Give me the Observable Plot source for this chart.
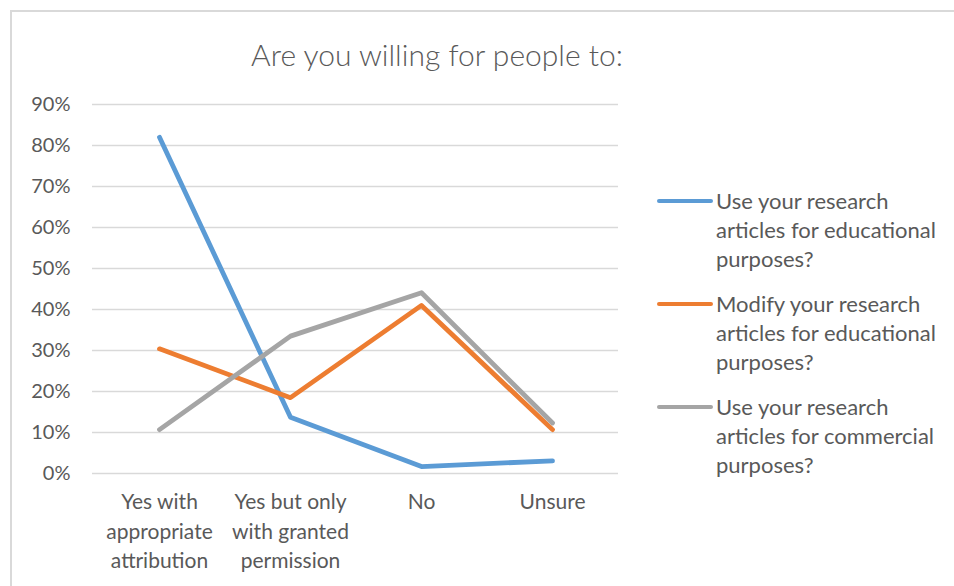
<!DOCTYPE html>
<html>
<head>
<meta charset="utf-8">
<script src="https://cdn.jsdelivr.net/npm/d3@7"></script>
<script src="https://cdn.jsdelivr.net/npm/@observablehq/plot@0.6"></script>
<style>
  html, body { margin: 0; padding: 0; background: #fff; }
  #wrap { position: relative; width: 954px; height: 586px; overflow: hidden; font-family: Lato, "Open Sans", sans-serif; color: #595959; }
  #frame { position: absolute; left: 10px; top: 10px; width: 960px; height: 600px; border-left: 2px solid #d9d9d9; border-top: 2px solid #d9d9d9; box-sizing: border-box; }
  #title { position: absolute; left: 0; top: 37px; width: 874px; text-align: center; font-size: 30px; font-weight: 300; line-height: 34px; }
  #chart { position: absolute; left: 0; top: 80px; }
  #legend { position: absolute; left: 657px; top: 186px; width: 297px; }
  .entry { position: relative; padding-left: 59px; font-size: 22px; line-height: 29px; margin-bottom: 16px; white-space: nowrap; }
  .swatch { position: absolute; left: 0; top: 12.5px; width: 56px; height: 4.8px; border-radius: 2.5px; }
</style>
</head>
<body>
<div id="wrap">
  <div id="frame"></div>
  <div id="title">Are you willing for people to:</div>
  <div id="chart"></div>
  <div id="legend"></div>
</div>
<script>
// Answer categories (x axis), with the line breaks used in the axis labels
const categories = [
  "Yes with\nappropriate\nattribution",
  "Yes but only\nwith granted\npermission",
  "No",
  "Unsure"
];

// Survey questions (one line each)
const seriesNames = [
  "Use your research articles for educational purposes?",
  "Modify your research articles for educational purposes?",
  "Use your research articles for commercial purposes?"
];
const seriesColors = ["#5b9bd5", "#ed7d31", "#a5a5a5"];

// Share of respondents per answer
const useEducational = [0.82, 0.137, 0.017, 0.031];
const modifyEducational = [0.304, 0.185, 0.41, 0.107];
const useCommercial = [0.107, 0.335, 0.441, 0.123];

// y axis ticks
const yTicks = [0, 0.1, 0.2, 0.3, 0.4, 0.5, 0.6, 0.7, 0.8, 0.9];

const seriesValues = [useEducational, modifyEducational, useCommercial];
const rows = seriesNames.flatMap((name, i) =>
  categories.map((category, j) => ({series: name, category, value: seriesValues[i][j]}))
);

const chart = Plot.plot({
  width: 640,
  height: 506,
  marginTop: 24,
  marginBottom: 113,
  marginLeft: 92,
  marginRight: 22,
  x: {type: "point", domain: categories, padding: 0.5, label: null},
  y: {domain: [0, 0.9], label: null},
  color: {domain: seriesNames, range: seriesColors},
  style: {fontFamily: "Lato, 'Open Sans', sans-serif", color: "#595959", background: "transparent", overflow: "visible"},
  marks: [
    Plot.gridY(yTicks, {stroke: "#d9d9d9", strokeOpacity: 1, strokeWidth: 1.6}),
    Plot.axisY(yTicks, {tickFormat: d3.format(".0%"), tickSize: 0, tickPadding: 22, fontSize: 20, label: null}),
    Plot.axisX({tickSize: 0, tickPadding: 15, fontSize: 21, lineHeight: 1.4, lineAnchor: "top", label: null}),
    Plot.line(rows, {
      x: "category", y: "value", z: "series", stroke: "series",
      strokeWidth: 4.8, strokeLinecap: "round", strokeLinejoin: "round"
    })
  ]
});
document.getElementById("chart").appendChild(chart);

// Legend: colored line swatch + wrapped question text
const legendLines = [
  ["Use your research", "articles for educational", "purposes?"],
  ["Modify your research", "articles for educational", "purposes?"],
  ["Use your research", "articles for commercial", "purposes?"]
];
const legend = d3.select("#legend");
seriesNames.forEach((name, i) => {
  const entry = legend.append("div").attr("class", "entry");
  entry.append("div").attr("class", "swatch").style("background", seriesColors[i]);
  entry.append("div").html(legendLines[i].join("<br>"));
});
</script>
</body>
</html>
